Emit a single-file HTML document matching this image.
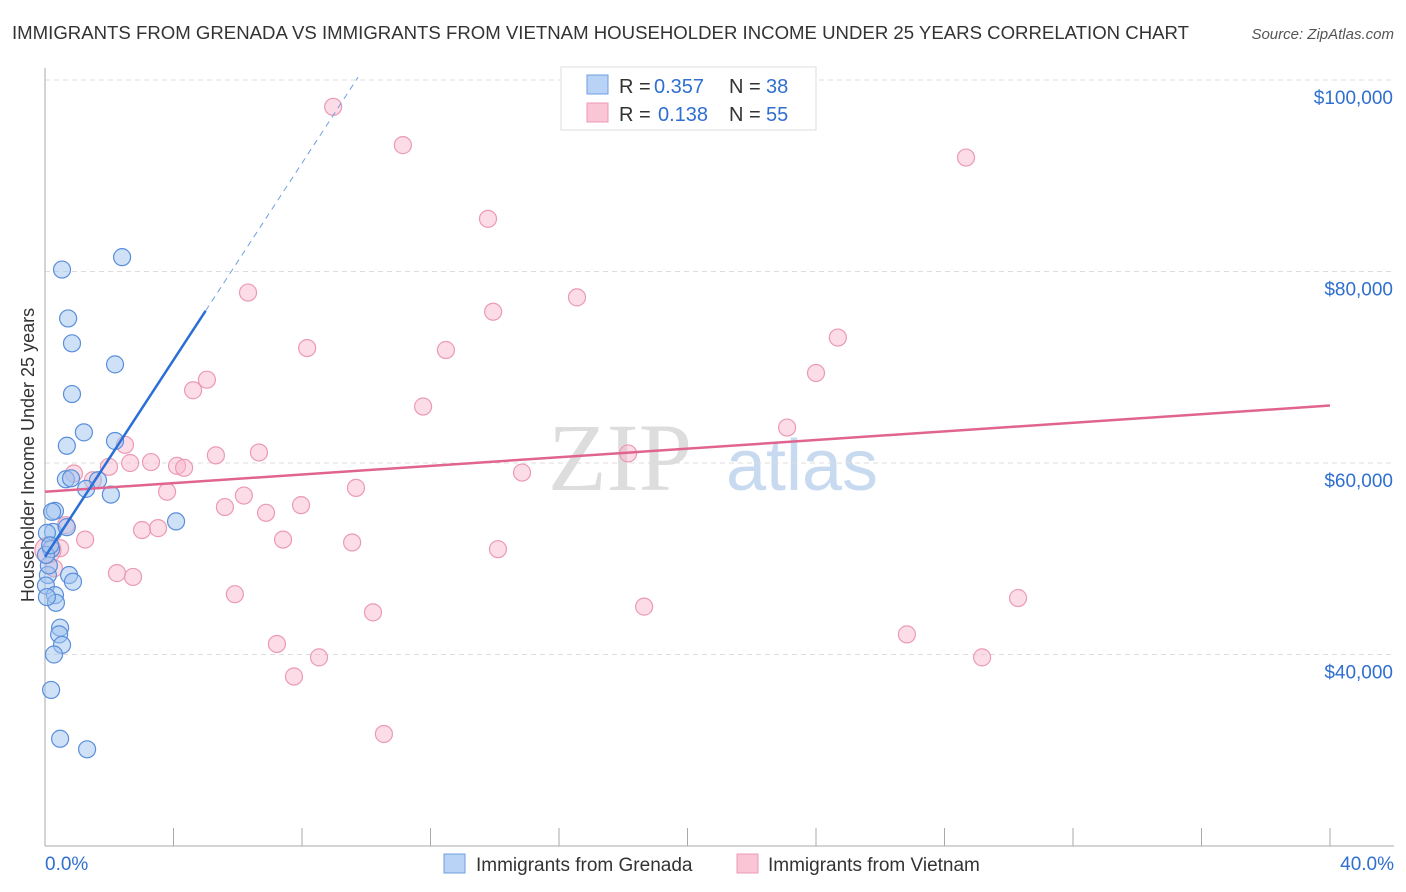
<!DOCTYPE html>
<html><head><meta charset="utf-8"><style>
body{margin:0;background:#fff;font-family:"Liberation Sans",sans-serif;}
#wrap{position:relative;width:1406px;height:892px;overflow:hidden;}
</style></head><body>
<div id="wrap">
<svg id="svg" width="1406" height="892" xmlns="http://www.w3.org/2000/svg">
<text x="12" y="39" font-size="18" fill="#333" textLength="1177" lengthAdjust="spacingAndGlyphs">IMMIGRANTS FROM GRENADA VS IMMIGRANTS FROM VIETNAM HOUSEHOLDER INCOME UNDER 25 YEARS CORRELATION CHART</text>
<text x="1394" y="39" font-size="15" fill="#555" font-style="italic" text-anchor="end">Source: ZipAtlas.com</text>
<text x="620" y="490" font-size="96" fill="#ddd" font-family="Liberation Serif,serif" text-anchor="middle">ZIP</text>
<text x="802" y="490" font-size="72" fill="#c8daf0" text-anchor="middle">atlas</text>
<text transform="translate(34,455) rotate(-90)" font-size="18" fill="#333" text-anchor="middle">Householder Income Under 25 years</text>
<g id="grid"></g><g id="marks"></g>
<g>
<rect x="561" y="67" width="255" height="63" fill="#fff" stroke="#ddd"/>
<rect x="587" y="75" width="21" height="19" fill="#b8d3f5" stroke="#6e9fe0"/>
<rect x="587" y="103" width="21" height="19" fill="#fac6d6" stroke="#ec9ab4"/>
<text x="619" y="93" font-size="20" fill="#333">R =</text>
<text x="654" y="93" font-size="20" fill="#2f6fd0">0.357</text>
<text x="729" y="93" font-size="20" fill="#333">N =</text>
<text x="766" y="93" font-size="20" fill="#2f6fd0">38</text>
<text x="619" y="121" font-size="20" fill="#333">R =</text>
<text x="658" y="121" font-size="20" fill="#2f6fd0">0.138</text>
<text x="729" y="121" font-size="20" fill="#333">N =</text>
<text x="766" y="121" font-size="20" fill="#2f6fd0">55</text>
</g>
<g>
<rect x="444" y="854" width="21" height="19" fill="#b8d3f5" stroke="#6e9fe0"/>
<text x="476" y="871" font-size="19" fill="#333">Immigrants from Grenada</text>
<rect x="737" y="854" width="21" height="19" fill="#fac6d6" stroke="#ec9ab4"/>
<text x="768" y="871" font-size="19" fill="#333">Immigrants from Vietnam</text>
</g>
</svg></div>
<script>
const blueX=[0.53,2.40,0.72,0.84,2.18,0.84,1.21,0.68,2.18,0.65,0.81,1.65,1.28,2.05,0.31,0.22,0.25,0.06,0.19,0.68,4.08,0.75,0.87,0.09,0.12,0.03,0.31,0.34,0.47,0.44,0.53,0.28,0.19,0.47,1.31,0.03,0.06,0.16];
const blueY=[80.2,81.5,75.1,72.5,70.3,67.2,63.2,61.8,62.3,58.3,58.4,58.2,57.3,56.7,55.0,54.9,52.8,52.7,51.0,53.3,53.9,48.3,47.6,48.3,49.3,47.2,46.2,45.4,42.8,42.1,41.0,40.0,36.3,31.2,30.1,50.4,46.0,51.4];
const pinkX=[8.97,11.14,28.67,13.79,6.32,16.56,13.95,8.16,12.48,24.68,4.61,5.04,11.77,24.0,23.10,2.49,6.66,5.32,3.30,4.11,4.33,2.65,1.99,0.90,1.49,18.15,14.85,3.80,6.19,9.68,5.60,7.97,6.88,0.65,3.02,3.52,1.25,7.41,9.56,14.10,0.47,0.28,2.24,2.74,5.91,10.21,18.65,30.29,26.83,7.22,8.53,7.75,29.17,10.55,0.09];
const pinkY=[97.2,93.2,91.9,85.5,77.8,77.3,75.8,72.0,71.8,73.1,67.6,68.7,65.9,69.4,63.7,61.9,61.1,60.8,60.1,59.7,59.5,60.0,59.6,58.9,58.2,61.0,59.0,57.0,56.6,57.4,55.4,55.6,54.8,53.5,53.0,53.2,52.0,52.0,51.7,51.0,51.1,49.0,48.5,48.1,46.3,44.4,45.0,45.9,42.1,41.1,39.7,37.7,39.7,31.7,50.9];
const yTicks=[40,60,80,100];
const xTicks=[0,4,8,12,16,20,24,28,32,36,40];
const blueTrend=[50.2,5.14];
const pinkTrend=[57.0,0.225];
const NS="http://www.w3.org/2000/svg";
const sx=v=>45+v*32.125, sy=v=>463-(v-60)*9.575;
function mk(t,a,p){const e=document.createElementNS(NS,t);for(const k in a)e.setAttribute(k,a[k]);p.appendChild(e);return e;}
const grid=document.getElementById('grid'), marks=document.getElementById('marks');
yTicks.forEach(t=>{
 const l=mk('line',{x1:45,x2:1394,y1:sy(t),y2:sy(t),stroke:'#ddd','stroke-dasharray':'5,4'},grid);
 
 
 const tx=mk('text',{x:1393,y:sy(t)+24,'font-size':19,fill:'#2f6fd0','text-anchor':'end'},grid);
 tx.textContent='$'+(t*1000).toLocaleString('en-US');
 
 
});
mk('line',{x1:45,x2:45,y1:68,y2:846,stroke:'#aaa'},grid);
mk('line',{x1:45,x2:1394,y1:846,y2:846,stroke:'#aaa'},grid);
xTicks.forEach(t=>{
 const l=mk('line',{x1:sx(t),x2:sx(t),y1:828,y2:846,stroke:'#aaa'},grid);
 
 
});
[[0,'0.0%','start',45],[40,'40.0%','end',1394]].forEach(d=>{
 const tx=mk('text',{x:d[3],y:870,'font-size':19,fill:'#2f6fd0','text-anchor':d[2]},grid);
 tx.textContent=d[1];
 
 
});
pinkX.forEach((x,i)=>{
 const c=mk('circle',{cx:sx(x),cy:sy(pinkY[i]),r:i==54?13:8.5,fill:'rgba(248,180,202,0.45)',stroke:'#eb9ab3','stroke-width':1.2},marks);
 
 
});
blueX.forEach((x,i)=>{
 const c=mk('circle',{cx:sx(x),cy:sy(blueY[i]),r:8.5,fill:'rgba(160,196,240,0.5)',stroke:'#5a8edb','stroke-width':1.2},marks);
 
 
});
const pl=mk('line',{x1:sx(0),y1:sy(pinkTrend[0]),x2:sx(40),y2:sy(pinkTrend[0]+pinkTrend[1]*40),stroke:'#e0648f','stroke-width':2.5},marks);


const bl=mk('line',{x1:sx(0),y1:sy(blueTrend[0]),x2:sx(5),y2:sy(blueTrend[0]+blueTrend[1]*5),stroke:'#2a6fd6','stroke-width':2.5},marks);


const xe=(100.3-blueTrend[0])/blueTrend[1];
const bd=mk('line',{x1:sx(5),y1:sy(blueTrend[0]+blueTrend[1]*5),x2:sx(xe),y2:sy(100.3),stroke:'#6e9fe0','stroke-width':1,'stroke-dasharray':'6,5'},marks);


</script>
</body></html>
